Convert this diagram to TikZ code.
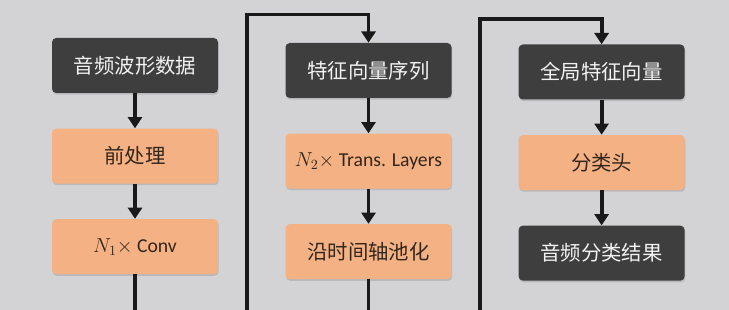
\documentclass[tikz,border=0pt]{standalone}
\usepackage{fontspec}
\setmainfont{Carlito}
\newfontfamily\cjk{Noto Sans CJK SC}
\usetikzlibrary{arrows.meta,positioning,shadows}
\definecolor{bggray}{HTML}{D3D3D5}
\definecolor{boxdark}{HTML}{3E3E3E}
\definecolor{boxorange}{HTML}{F4B183}
\definecolor{txtdark}{HTML}{33261C}
\tikzset{
  darkbox/.style  ={rectangle,rounded corners=3pt,fill=boxdark,text=white!95!black,
                    minimum width=4.15cm,minimum height=1.375cm,align=center,
                    font=\cjk\fontsize{14.5}{17}\selectfont,
                    drop shadow={shadow xshift=0.5pt,shadow yshift=-1.2pt,opacity=0.3}},
  orangebox/.style={rectangle,rounded corners=3pt,fill=boxorange,text=txtdark,
                    minimum width=4.15cm,minimum height=1.375cm,align=center,
                    font=\cjk\fontsize{14.5}{17}\selectfont,
                    drop shadow={shadow xshift=0.5pt,shadow yshift=-1.2pt,opacity=0.3}},
  latin/.style    ={font=\fontsize{14}{16}\selectfont},
  arr/.style      ={-{Triangle[width=10pt,length=8pt]},line width=2.8pt,black!90}
}

\begin{document}
\begin{tikzpicture}[node distance=0.875cm]
  \useasboundingbox (0,-7.75) rectangle (18.225,0);
  \clip (0,-7.75) rectangle (18.225,0);
  \fill[bggray] (0,-7.75) rectangle (18.225,0);

  \node (wave)     [darkbox] at (3.375,-1.6375)   {音频波形数据};
  \node (prep)     [orangebox, below=of wave]     {前处理};
  \node (conv)     [orangebox, latin, below=of prep] {$N_1$$\times$ Conv};

  \node (featseq)  [darkbox] at (9.2125,-1.7625)  {特征向量序列};
  \node (trans)    [orangebox, latin, below=of featseq] {$N_2$$\times$ Trans. Layers};
  \node (pool)     [orangebox, below=of trans]    {沿时间轴池化};

  \node (globfeat) [darkbox] at (15.04,-1.8)      {全局特征向量};
  \node (head)     [orangebox, below=of globfeat] {分类头};
  \node (result)   [darkbox, below=of head]       {音频分类结果};

  \coordinate (rail1) at (6.175,-0.3625);
  \coordinate (rail2) at (12.0,-0.475);

  \draw [arr] (wave) -- (prep);
  \draw [arr] (prep) -- (conv);
  \draw [arr] (conv) -- ++(0,-2) -| (rail1) -| (featseq);
  \draw [arr] (featseq) -- (trans);
  \draw [arr] (trans) -- (pool);
  \draw [arr] (pool) -- ++(0,-2) -| (rail2) -| (globfeat);
  \draw [arr] (globfeat) -- (head);
  \draw [arr] (head) -- (result);
\end{tikzpicture}
\end{document}
